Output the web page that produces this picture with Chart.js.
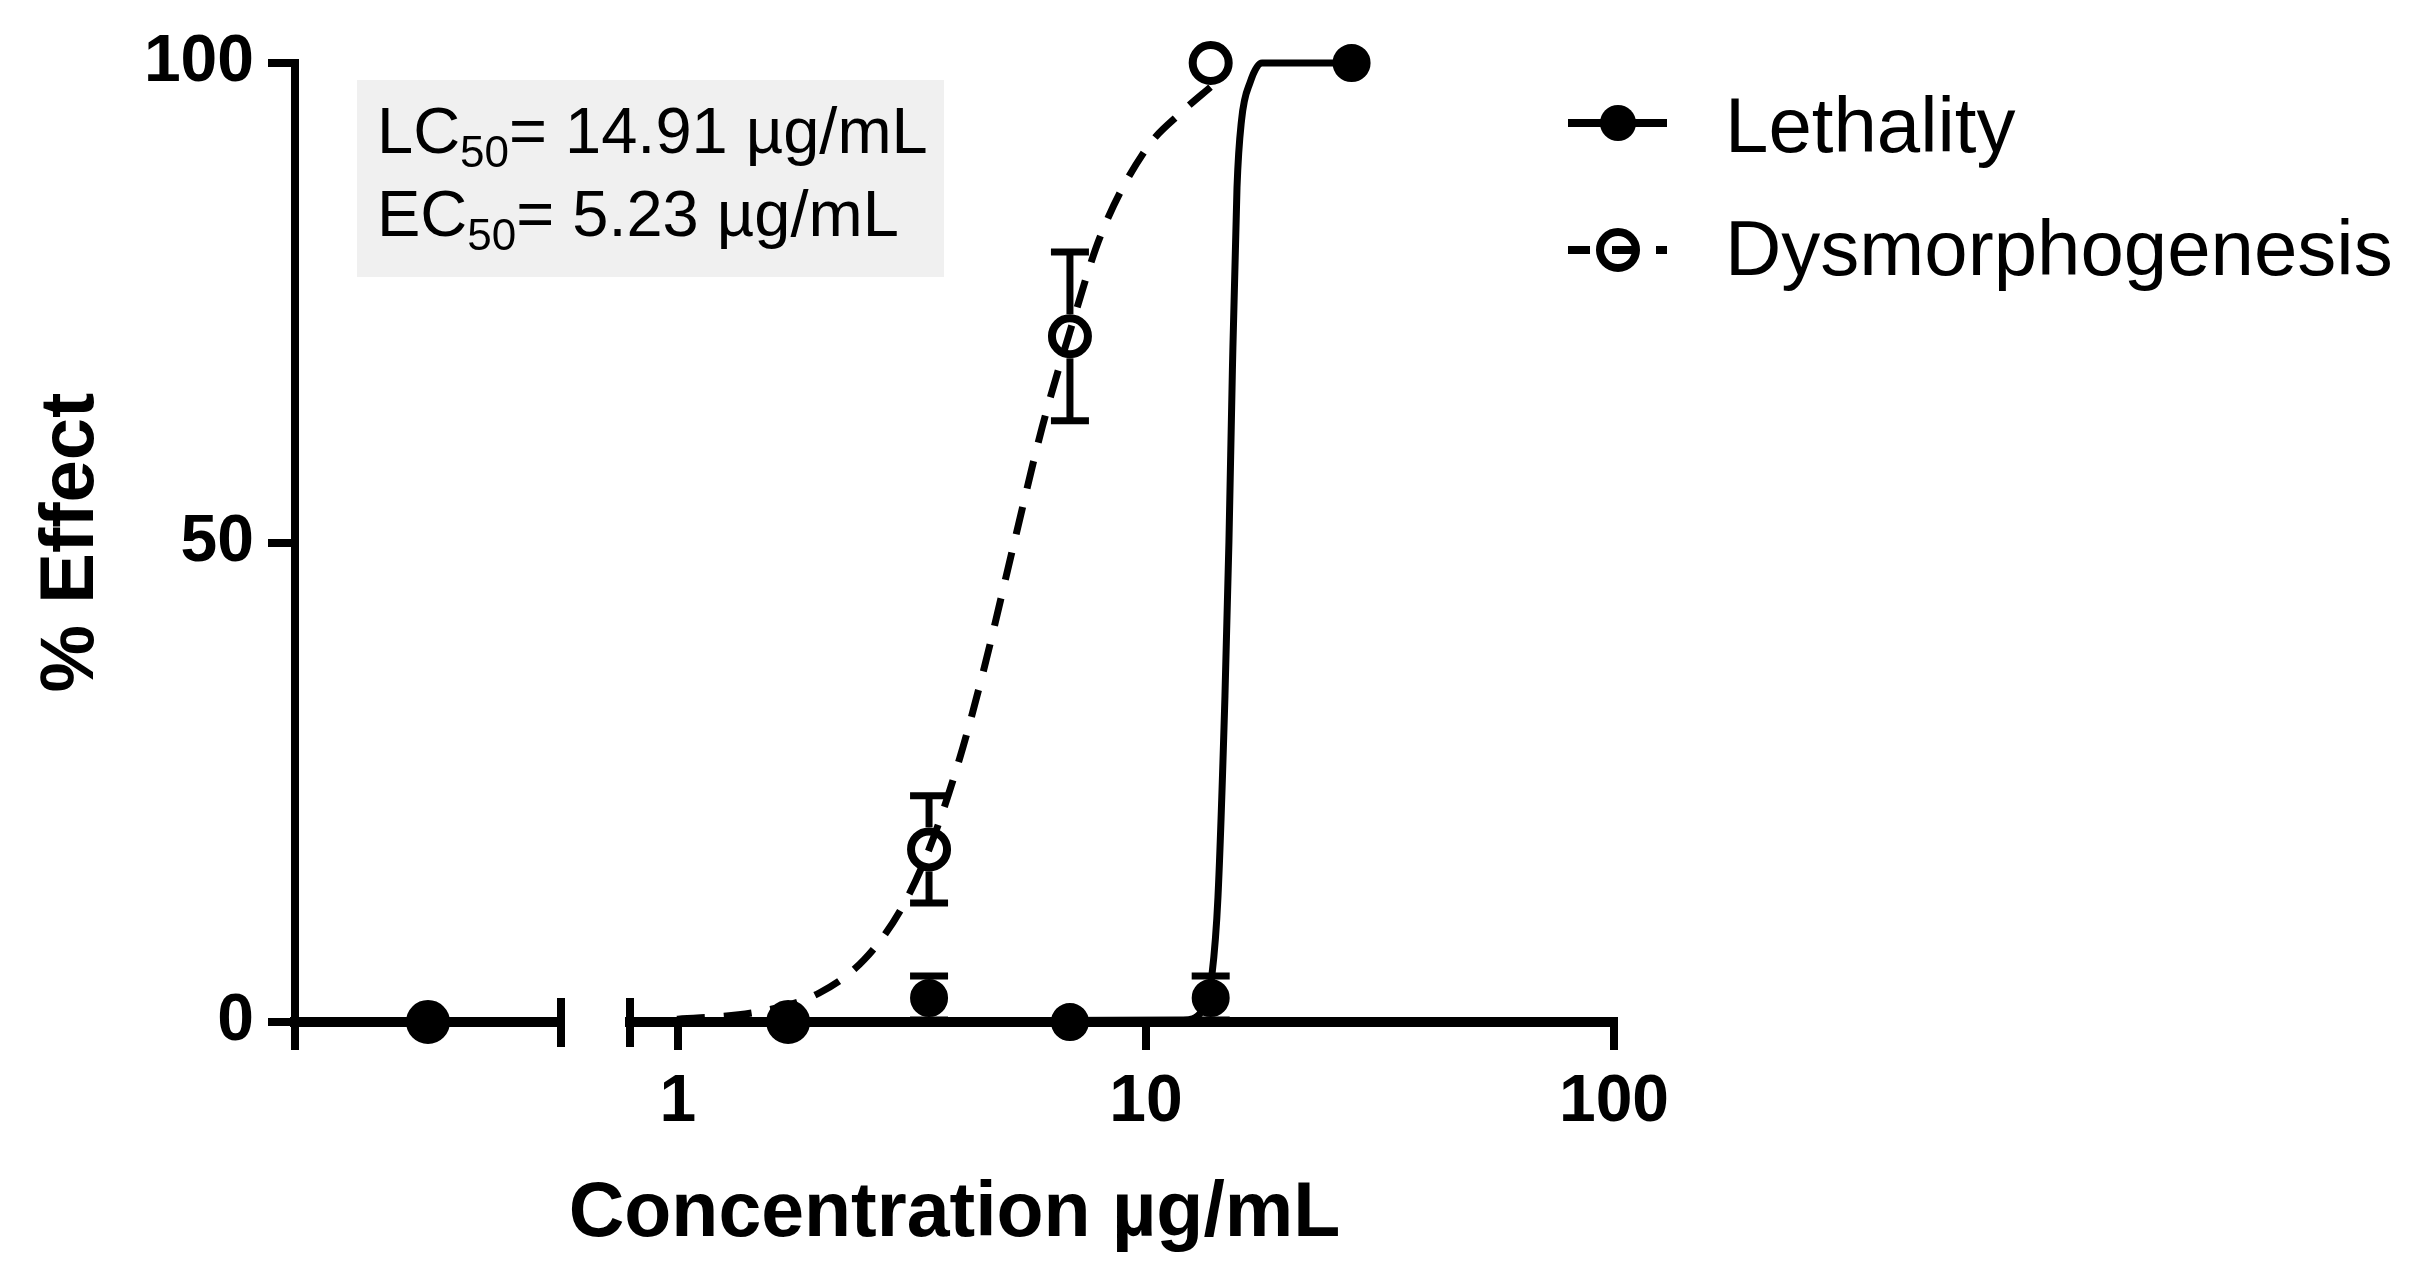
<!DOCTYPE html>
<html>
<head>
<meta charset="utf-8">
<script src="https://cdn.jsdelivr.net/npm/chart.js@4.4.1/dist/chart.umd.min.js"></script>
<style>
  html, body { margin:0; padding:0; background:#fff; }
  #wrap { position:relative; width:2411px; height:1277px; }
</style>
</head>
<body>
<div id="wrap"><canvas id="c"></canvas></div>
<script>
// measured points (µg/mL, % effect)
const concentrations = [1.72, 3.44, 6.88, 13.75, 27.5];
const lethalityMean  = [0, 2.5, 0, 2.5, 100];
const lethalityErr   = [0, 2.3, 0, 2.3, 0];
const dysConc = [1.72, 3.44, 6.88, 13.75];
const dysMean = [0, 18, 71.5, 100];
const dysErr  = [0, 5.6, 8.8, 0];
const controlLethality = 0;
const controlDys = 0;

// fitted curves
const lethalityFitX = [0.79, 12, 13.2, 13.84, 14.25, 14.75, 15.04, 15.3, 15.65, 16.0, 16.7, 17.7, 27.5];
const lethalityFitY = [0, 0.2, 1.2, 5, 13, 34, 50, 68, 87, 94, 98, 100, 100];
const dysFitX = [0.79, 1.0, 1.5, 2.0, 2.5, 3.0, 3.44, 4.0, 4.5, 5.23, 6.0, 6.88, 8.0, 10.0, 12.0, 13.75];
const dysFitY = [0, 0.3, 1.1, 3.0, 6.5, 11.8, 18, 27.5, 36.7, 50, 62, 72, 82, 91, 95, 97.5];

const xTicks = [1, 10, 100];
const yTicks = [0, 50, 100];
const seriesNames = ['Lethality', 'Dysmorphogenesis'];
const lc50 = '14.91';
const ec50 = '5.23';

const FONT = '"Liberation Sans", Arial, sans-serif';
const pts = (xs, ys) => xs.map((x, i) => ({x, y: ys[i]}));

function fitX(s){ s.height = 130; s.paddingLeft = 0; s.paddingRight = 0; }

const filled = { showLine:false, pointRadius:16, pointBorderWidth:6, pointBackgroundColor:'#000', pointBorderColor:'#000', clip:false };
const open   = { showLine:false, pointRadius:18, pointBorderWidth:8, pointBackgroundColor:'rgba(0,0,0,0)', pointBorderColor:'#000', clip:false };

const errorBars = {
  id: 'errorBars',
  afterDatasetsDraw(chart){
    const ctx = chart.ctx;
    chart.data.datasets.forEach((ds, i)=>{
      if(!ds.errors) return;
      const meta = chart.getDatasetMeta(i);
      const xs = chart.scales[meta.xAxisID], ys = chart.scales[meta.yAxisID];
      const r = ds.pointRadius + ds.pointBorderWidth/2;
      ctx.save();
      ctx.strokeStyle = '#000';
      ctx.lineWidth = 7;
      ds.data.forEach((p, j)=>{
        const e = ds.errors[j];
        if(!e) return;
        const px = xs.getPixelForValue(p.x), py = ys.getPixelForValue(p.y);
        [1, -1].forEach(sg=>{
          const cy = ys.getPixelForValue(p.y + sg*e);
          if(Math.abs(cy - py) > r){
            ctx.beginPath(); ctx.moveTo(px, py - sg*r); ctx.lineTo(px, cy); ctx.stroke();
          }
          ctx.beginPath(); ctx.moveTo(px - 19, cy); ctx.lineTo(px + 19, cy); ctx.stroke();
        });
      });
      ctx.restore();
    });
  }
};

const decorations = {
  id: 'decorations',
  afterDraw(chart){
    const ctx = chart.ctx;
    const y0 = chart.scales.y.getPixelForValue(0);
    ctx.save();
    ctx.strokeStyle = '#000';
    ctx.fillStyle = '#000';
    // axis break marks
    ctx.lineWidth = 8;
    [chart.scales.xc.right, chart.scales.x.left].forEach(bx=>{
      ctx.beginPath(); ctx.moveTo(bx, y0 - 24); ctx.lineTo(bx, y0 + 25); ctx.stroke();
    });

    // annotation box
    ctx.fillStyle = '#f0f0f0';
    ctx.fillRect(357, 80, 587, 197);
    ctx.fillStyle = '#000';
    ctx.textAlign = 'left';
    ctx.textBaseline = 'alphabetic';
    [['LC', lc50, 153], ['EC', ec50, 236]].forEach(([pre, val, by])=>{
      let x = 377;
      ctx.font = '65px ' + FONT;
      ctx.fillText(pre, x, by); x += ctx.measureText(pre).width;
      ctx.font = '44px ' + FONT;
      ctx.fillText('50', x, by + 14); x += ctx.measureText('50').width;
      ctx.font = '65px ' + FONT;
      ctx.fillText('= ' + val + ' µg/mL', x, by);
    });

    // legend
    ctx.lineWidth = 8;
    ctx.beginPath(); ctx.moveTo(1568, 123); ctx.lineTo(1667, 123); ctx.stroke();
    ctx.beginPath(); ctx.arc(1618, 123, 18, 0, Math.PI*2); ctx.fill();
    ctx.setLineDash([22, 22]);
    ctx.beginPath(); ctx.moveTo(1568, 250); ctx.lineTo(1667, 250); ctx.stroke();
    ctx.setLineDash([]);
    ctx.beginPath(); ctx.arc(1618, 250, 18, 0, Math.PI*2); ctx.stroke();
    ctx.font = '78px ' + FONT;
    ctx.fillText(seriesNames[0], 1725, 152);
    ctx.fillText(seriesNames[1], 1725, 275);
    ctx.restore();
  }
};

const axisGrid = { drawOnChartArea:false, tickLength:28, lineWidth:8, color:'#000' };
const axisBorder = { width:10, color:'#000' };

new Chart(document.getElementById('c'), {
  type: 'scatter',
  data: {
    datasets: [
      Object.assign({ label: seriesNames[0], data: pts(concentrations, lethalityMean), errors: lethalityErr, xAxisID:'x' }, filled),
      Object.assign({ label: seriesNames[1], data: pts(dysConc, dysMean), errors: dysErr, xAxisID:'x' }, open),
      Object.assign({ label: seriesNames[0] + ' control', data: [{x:0, y:controlLethality}], xAxisID:'xc' }, filled),
      Object.assign({ label: seriesNames[1] + ' control', data: [{x:0, y:controlDys}], xAxisID:'xc' }, open),
      { label: seriesNames[0] + ' fit', data: pts(lethalityFitX, lethalityFitY), xAxisID:'x', showLine:true,
        pointRadius:0, borderColor:'#000', borderWidth:7, cubicInterpolationMode:'monotone', clip:false },
      { label: seriesNames[1] + ' fit', data: pts(dysFitX, dysFitY), xAxisID:'x', showLine:true,
        pointRadius:0, borderColor:'#000', borderWidth:7, borderDash:[28, 19], cubicInterpolationMode:'monotone', clip:false }
    ]
  },
  options: {
    responsive: true,
    maintainAspectRatio: false,
    animation: false,
    layout: { padding: { top:63, right:797, bottom:0, left:0 } },
    plugins: { legend:{ display:false }, tooltip:{ enabled:false } },
    scales: {
      xc: {
        type:'linear', position:'bottom', stack:'xaxis', stackWeight:266, min:-1, max:1,
        afterBuildTicks: s=>{ s.ticks = [{value:-1}]; },
        ticks:{ display:false }, grid: axisGrid, border: axisBorder, afterFit: fitX
      },
      xgap: {
        type:'linear', position:'bottom', stack:'xaxis', stackWeight:69,
        ticks:{ display:false }, grid:{ display:false }, border:{ display:false }, afterFit: fitX
      },
      x: {
        type:'logarithmic', position:'bottom', stack:'xaxis', stackWeight:984, min:0.79, max:100,
        afterBuildTicks: s=>{ s.ticks = xTicks.map(v=>({value:v})); },
        ticks:{ autoSkip:false, maxRotation:0, padding:13, color:'#000', font:{ family:FONT, size:66, weight:'bold' }, callback: v=>String(v) },
        grid: axisGrid, border: axisBorder, afterFit: fitX
      },
      xt: {
        type:'linear', position:'bottom', weight:10,
        ticks:{ display:false }, grid:{ display:false }, border:{ display:false },
        title:{ display:true, text:'Concentration µg/mL', color:'#000', font:{ family:FONT, size:77, weight:'bold' }, padding:{ top:0, bottom:16 } },
        afterFit: s=>{ s.height = 125; s.paddingLeft = 0; s.paddingRight = 0; }
      },
      y: {
        type:'linear', position:'left', min:0, max:100,
        afterBuildTicks: s=>{ s.ticks = yTicks.map(v=>({value:v})); },
        ticks:{ padding:14, color:'#000', font:{ family:FONT, size:66, weight:'bold' } },
        grid:{ drawOnChartArea:false, tickLength:27, lineWidth:8, color:'#000' },
        border:{ width:8, color:'#000' },
        title:{ display:true, text:'% Effect', color:'#000', font:{ family:FONT, size:76, weight:'bold' }, padding:{ top:26, bottom:0 } },
        afterFit: s=>{ s.width = 295; s.paddingTop = 0; s.paddingBottom = 0; }
      }
    }
  },
  plugins: [errorBars, decorations]
});
</script>
</body>
</html>
